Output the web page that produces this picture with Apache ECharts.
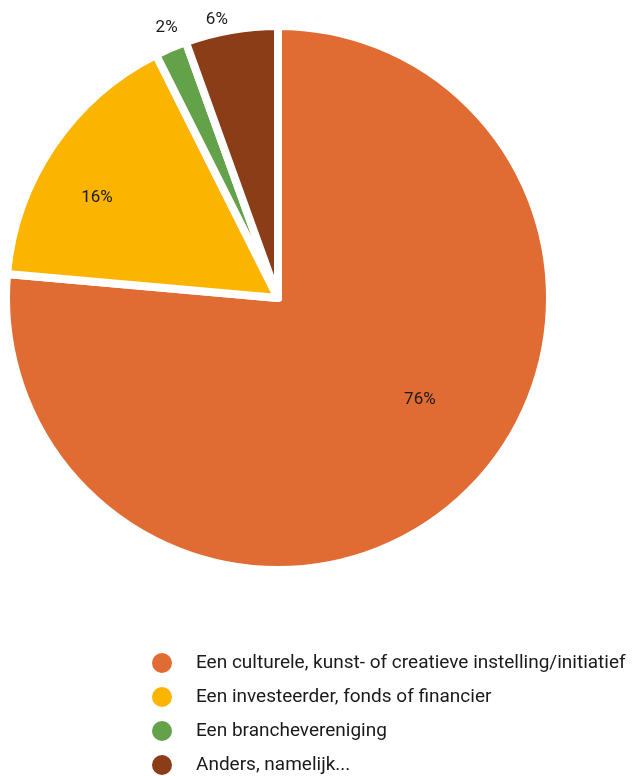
<!DOCTYPE html>
<html>
<head>
<meta charset="utf-8">
<script src="https://cdn.jsdelivr.net/npm/echarts@6/dist/echarts.min.js"></script>
<style>
  html, body { margin: 0; padding: 0; background: #ffffff; }
  #chart { width: 638px; height: 776px; }
</style>
</head>
<body>
<div id="chart"></div>
<script>
const categories = [
  'Een culturele, kunst- of creatieve instelling/initiatief',
  'Een investeerder, fonds of financier',
  'Een branchevereniging',
  'Anders, namelijk...'
];
const values = [76.4, 16.2, 1.9, 5.5];
const colors = ['#E16C33', '#FBB400', '#64A24A', '#8A3D17'];

// label placement styles (per slice)
const labelStyles = [
  { position: 'inside', offset: [48, -1] },
  { position: 'inside', offset: [-66, -22] },
  { position: 'outside', offset: [15, -13] },
  { position: 'outside', offset: [3, -2] }
];

const chart = echarts.init(document.getElementById('chart'), null, { renderer: 'canvas' });
const fontFam = 'Roboto, "Liberation Sans", sans-serif';

chart.setOption({
  animation: false,
  color: colors,
  legend: {
    orient: 'vertical',
    left: 150,
    top: 651,
    height: 140,
    padding: 0,
    icon: 'circle',
    itemWidth: 22,
    itemHeight: 22,
    itemGap: 10,
    selectedMode: false,
    textStyle: { fontFamily: fontFam, fontSize: 19, lineHeight: 22, color: '#1a1a1a', padding: [0, 0, 0, 18] },
    data: categories
  },
  series: [{
    type: 'pie',
    center: [278, 298],
    radius: [0, 272],
    startAngle: 90,
    clockwise: true,
    avoidLabelOverlap: false,
    silent: true,
    itemStyle: { borderColor: '#ffffff', borderWidth: 8 },
    label: {
      fontFamily: fontFam,
      fontSize: 17,
      color: '#1a1a1a',
      formatter: p => Math.round(p.percent) + '%'
    },
    labelLine: { show: false, length: 8, length2: 0 },
    data: categories.map((name, i) => ({
      name: name,
      value: values[i],
      label: labelStyles[i]
    }))
  }]
});
</script>
</body>
</html>
